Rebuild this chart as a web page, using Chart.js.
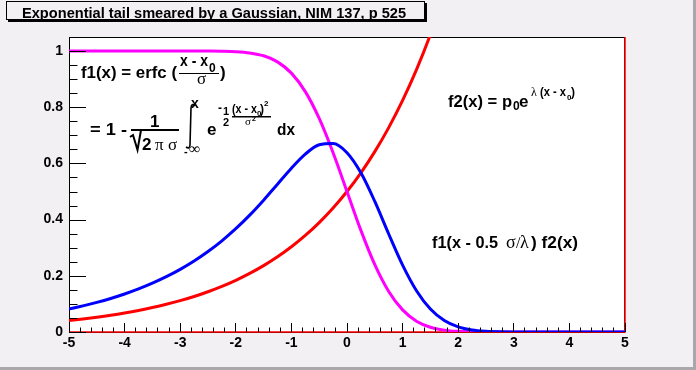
<!DOCTYPE html>
<html><head><meta charset="utf-8">
<script src="https://cdn.jsdelivr.net/npm/chart.js@4"></script>
<style>html,body{margin:0;padding:0;background:#f3f0f3;}canvas{display:block}</style>
</head><body>
<canvas id="c" width="696" height="370"></canvas>
<script>
const titleText = 'Exponential tail smeared by a Gaussian, NIM 137, p 525';
const xValues = [-5,-4.75,-4.5,-4.25,-4,-3.75,-3.5,-3.25,-3,-2.75,-2.5,-2.25,-2,-1.75,-1.5,-1.25,-1,-0.75,-0.5,-0.25,0,0.25,0.5,0.75,1,1.25,1.5,1.75,2,2.25,2.5,2.75,3,3.25,3.5,3.75,4,4.25,4.5,4.75,5];
// f1 (magenta)
const f1Values = [1,1,1,1,1,1,1,1,1,0.9999,0.9998,0.9993,0.9977,0.9933,0.9831,0.9615,0.9214,0.8556,0.7602,0.6382,0.5,0.3618,0.2398,0.1444,0.0787,0.0386,0.0169,0.0067,0.0023,0.0007,0.0002,0.0001,0,0,0,0,0,0,0,0,0];
// f2 (red)
const f2Values = [0.0410,0.0465,0.0527,0.0597,0.0677,0.0767,0.0869,0.0985,0.1116,0.1264,0.1433,0.1623,0.1839,0.2084,0.2362,0.2676,0.3033,0.3436,0.3894,0.4413,0.5,0.5666,0.6420,0.7275,0.8244,0.9341,1.0585,1.1994,null,null,null,null,null,null,null,null,null,null,null,null,null];
// f1(x - 0.5 sigma/lambda) f2(x) (blue)
const convValues = [0.0821,0.0930,0.1054,0.1194,0.1353,0.1534,0.1738,0.1969,0.2231,0.2528,0.2865,0.3246,0.3676,0.4159,0.4692,0.5262,0.5832,0.6332,0.6663,0.6709,0.6382,0.5666,0.4646,0.3488,0.2381,0.1469,0.0816,0.0407,0.0181,0.0072,0.0026,0.0008,0.0002,0,0,0,0,0,0,0,0];
// red edge of the f2 graph along the frame
const redEdgeX = [5,5,-5];
const redEdgeY = [1.05,0,0];
const xTickValues = [-5,-4,-3,-2,-1,0,1,2,3,4,5];
const xTickLabels = ['-5','-4','-3','-2','-1','0','1','2','3','4','5'];
const yTickValues = [0,0.2,0.4,0.6,0.8,1];
const yTickLabels = ['0','0.2','0.4','0.6','0.8','1'];

const BASE = '"Liberation Sans", Arial, sans-serif';
const SERIF = '"Liberation Serif", "DejaVu Serif", serif';

function txt(c, s, x0, x1, base, font) {
  c.font = font;
  c.textAlign = 'left';
  c.textBaseline = 'alphabetic';
  c.save();
  c.translate(x0, base);
  if (x1) { const w = c.measureText(s).width; c.scale((x1 - x0) / w, 1); }
  c.fillText(s, 0, 0);
  c.restore();
}

const deco = {
  id: 'deco',
  beforeDraw(chart) {
    const c = chart.ctx, W = chart.width, H = chart.height, a = chart.chartArea;
    c.save();
    c.fillStyle = '#f3f0f3'; c.fillRect(0, 0, W, H);
    c.fillStyle = '#aaa7aa'; c.fillRect(W - 3, 0, 3, H); c.fillRect(0, H - 3, W, 3);
    c.fillStyle = '#ffffff'; c.fillRect(a.left, a.top, a.right - a.left, a.bottom - a.top);
    c.strokeStyle = '#000'; c.lineWidth = 1; c.strokeRect(6.5, 1.5, 418, 18);
    c.fillStyle = '#000'; c.fillRect(425, 3, 2, 19); c.fillRect(8, 20, 419, 2);
    txt(c, titleText, 22, 406, 18, 'bold 14px ' + BASE);
    c.restore();
  },
  beforeDatasetsDraw(chart) {
    const c = chart.ctx, a = chart.chartArea;
    c.save();
    c.strokeStyle = '#000'; c.lineWidth = 1;
    c.strokeRect(a.left + 0.5, a.top + 0.5, a.right - a.left - 1, a.bottom - a.top);
    c.restore();
  },
  afterDraw(chart) {
    const c = chart.ctx, a = chart.chartArea, xs = chart.scales.x, ys = chart.scales.y;
    c.save();
    c.strokeStyle = '#000'; c.lineWidth = 1;
    c.beginPath();
    for (let i = 0; i <= 50; i++) {
      const v = -5 + i * 0.2;
      const px = Math.floor(xs.getPixelForValue(v)) + 0.5;
      const len = (i % 5 === 0) ? 9 : 4.5;
      c.moveTo(px, a.bottom); c.lineTo(px, a.bottom - len);
    }
    for (let i = 0; i <= 20; i++) {
      const v = i * 0.05;
      const py = Math.round(ys.getPixelForValue(v)) + 0.5;
      const len = (i % 4 === 0) ? 17 : 8.5;
      c.moveTo(a.left, py); c.lineTo(a.left + len, py);
    }
    c.stroke();

    c.fillStyle = '#000';
    const B17 = 'bold 17px ' + BASE, B12 = 'bold 12px ' + BASE, B8 = 'bold 8px ' + BASE;
    // f1(x) = erfc((x-x0)/sigma)
    txt(c, 'f1(x) = erfc (', 81, 177, 78, B17);
    txt(c, 'x - x', 180, 208, 66, B17);
    txt(c, '0', 209, null, 72, B12);
    c.fillRect(179, 73, 40, 1);
    txt(c, '\u03C3', 197, null, 84, '17px ' + SERIF);
    txt(c, ')', 220, null, 78, B17);
    // = 1 - 1/sqrt(2 pi sigma) int e^... dx
    txt(c, '= 1 -', 90, 127, 135, B17);
    txt(c, '1', 150, null, 127, B17);
    c.fillRect(131, 129, 48, 2);
    c.lineWidth = 2;
    c.beginPath(); c.moveTo(130, 137); c.lineTo(133, 135); c.lineTo(137.5, 150); c.lineTo(141, 130); c.stroke();
    txt(c, '2', 142, null, 150, B17);
    txt(c, '\u03C0', 155, null, 150, '17px ' + SERIF);
    txt(c, '\u03C3', 168, null, 150, '17px ' + SERIF);
    c.lineWidth = 1.6;
    c.beginPath(); c.moveTo(195, 106); c.quadraticCurveTo(191.5, 102.5, 191, 108); c.lineTo(190, 145); c.quadraticCurveTo(189.5, 149.5, 186, 147); c.stroke();
    txt(c, 'x', 191, null, 108, 'bold 14px ' + BASE);
    txt(c, '-', 184, null, 155, 'bold 11px ' + BASE);
    txt(c, '\u221E', 189, null, 154, '16px ' + SERIF);
    txt(c, 'e', 207, null, 135, B17);
    txt(c, '-', 218, null, 112, B12);
    txt(c, '1', 223, null, 115, 'bold 11px ' + BASE);
    txt(c, '2', 223, null, 126, 'bold 11px ' + BASE);
    txt(c, '(x - x', 232, 257, 113, B12);
    txt(c, '0', 257, null, 116, B8);
    txt(c, ')', 260, null, 113, B12);
    txt(c, '2', 264, null, 106, B8);
    c.fillRect(232, 116, 39, 1.5);
    txt(c, '\u03C3', 245, null, 125, '11px ' + SERIF);
    txt(c, '2', 252, null, 121, 'bold 7px ' + BASE);
    txt(c, 'dx', 277, 295, 135, B17);
    // f2(x) = p0 e^{lambda (x - x0)}
    txt(c, 'f2(x) = p', 448, 512, 107, B17);
    txt(c, '0', 513, null, 110, B12);
    txt(c, 'e', 519, null, 107, B17);
    txt(c, '\u03BB', 531, null, 96, '12px ' + SERIF);
    txt(c, '(x - x', 540, 566, 96, B12);
    txt(c, '0', 567, null, 100, B8);
    txt(c, ')', 571, null, 96, B12);
    // f1(x - 0.5 sigma/lambda) f2(x)
    txt(c, 'f1(x - 0.5', 432, 498, 247.5, B17);
    txt(c, '\u03C3', 506, null, 247.5, '18px ' + SERIF);
    txt(c, '/', 516, null, 247.5, '16px ' + SERIF);
    txt(c, '\u03BB', 520, null, 247.5, '18px ' + SERIF);
    txt(c, ') f2(x)', 531, 578, 247.5, B17);
    c.restore();
  }
};

const toPts = (ys) => xValues.map((x, i) => ({ x: x, y: ys[i] }));
const lineDs = (label, ys, color, extra) => Object.assign({
  label: label, data: toPts(ys), borderColor: color, backgroundColor: color,
  borderWidth: 3, pointRadius: 0, fill: false, cubicInterpolationMode: 'monotone', spanGaps: false
}, extra || {});

const tickFont = { family: BASE, size: 14, weight: 'bold' };

new Chart(document.getElementById('c'), {
  type: 'line',
  data: {
    datasets: [
      lineDs('f1(x - 0.5 sigma/lambda) f2(x)', convValues, '#0000ff'),
      lineDs('f1(x)', f1Values, '#ff00ff'),
      lineDs('f2(x)', f2Values, '#ff0000', { clip: { left: 2, top: 0, right: 2, bottom: 2 } }),
      { label: 'f2 edge', data: redEdgeX.map((x, i) => ({ x: x, y: redEdgeY[i] })), borderColor: '#ff0000',
        borderWidth: 1.5, pointRadius: 0, fill: false, tension: 0, clip: false }
    ]
  },
  options: {
    responsive: false,
    animation: false,
    devicePixelRatio: 1,
    layout: { padding: { left: 0, top: 37, right: 71, bottom: 0 } },
    plugins: { legend: { display: false }, tooltip: { enabled: false }, title: { display: false } },
    scales: {
      x: {
        type: 'linear', min: -5, max: 5, position: 'bottom',
        grid: { display: false, drawTicks: false }, border: { display: false },
        afterBuildTicks: (s) => { s.ticks = xTickValues.map(v => ({ value: v })); },
        afterFit: (s) => { s.height = 38; },
        ticks: { autoSkip: false, maxRotation: 0, padding: 3, color: '#000', font: tickFont,
          callback: (v, i) => xTickLabels[i] }
      },
      y: {
        type: 'linear', min: 0, max: 1.05, position: 'left',
        grid: { display: false, drawTicks: false }, border: { display: false },
        afterBuildTicks: (s) => { s.ticks = yTickValues.map(v => ({ value: v })); },
        afterFit: (s) => { s.width = 69; },
        ticks: { autoSkip: false, padding: 6, color: '#000', font: tickFont,
          callback: (v, i) => yTickLabels[i] }
      }
    }
  },
  plugins: [deco]
});
</script>
</body></html>
